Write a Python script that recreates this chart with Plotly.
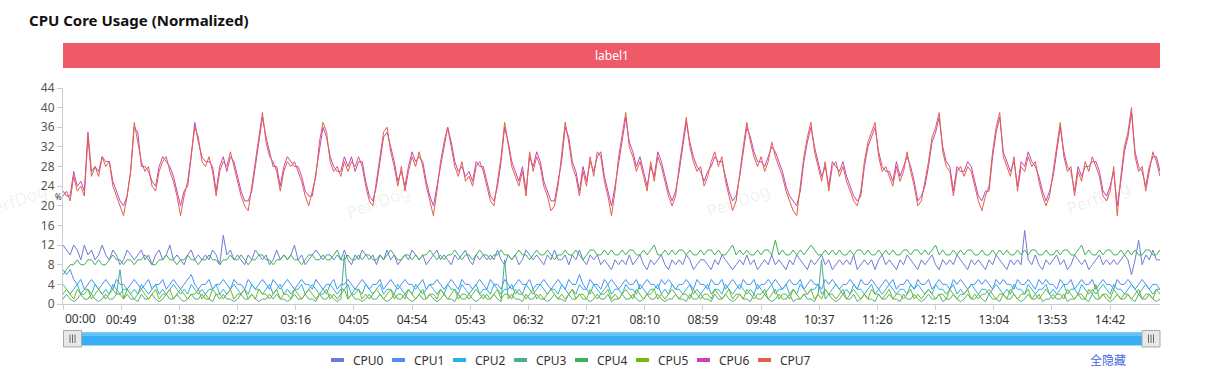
import plotly.graph_objects as go

# ---------------- data (sampled every 3 s) ----------------
TIME_STEP = 3
TICK_SECONDS = [0, 49, 98, 147, 196, 245, 294, 343, 392, 441, 490, 539, 588, 637, 686, 735, 784, 833, 882]
TICK_LABELS = ["00:00", "00:49", "01:38", "02:27", "03:16", "04:05", "04:54", "05:43", "06:32", "07:21",
               "08:10", "08:59", "09:48", "10:37", "11:26", "12:15", "13:04", "13:53", "14:42"]
Y_TICKS = [0, 4, 8, 12, 16, 20, 24, 28, 32, 36, 40, 44]

cpu0 = [12,11,10,12,11,9,12,10,11,9,10,12,10,9,11,10,8,9,11,10,
        9,10,11,9,10,8,10,11,9,10,12,9,10,9,8,10,11,9,10,9,
        10,9,11,10,8,14,10,11,9,10,9,8,10,9,11,10,9,10,8,9,
        11,9,10,9,10,12,9,10,8,9,10,11,10,9,10,10,9,10,9,11,
        9,8,10,9,11,10,9,10,8,10,9,11,9,10,8,9,10,9,11,10,
        9,10,8,9,10,11,9,10,9,8,10,9,10,11,9,8,10,9,10,9,
        10,9,11,9,8,10,9,10,8,9,11,10,9,10,9,8,10,9,11,9,
        9,10,8,10,9,11,9,8,10,9,10,8,9,8,7,9,8,9,8,10,
        8,9,10,8,7,9,8,9,10,8,7,9,8,9,8,10,9,7,8,9,
        9,8,7,9,8,10,9,8,7,8,9,8,10,8,9,7,8,9,8,10,
        8,9,8,7,9,8,10,9,8,7,9,8,9,10,8,9,7,8,9,8,
        9,8,10,7,8,9,8,9,7,9,10,8,9,8,7,9,8,10,9,8,
        7,9,8,9,10,8,7,9,8,9,8,10,9,8,7,9,8,9,8,7,
        9,8,10,9,8,7,9,8,9,8,15,9,8,10,8,7,9,8,9,10,
        8,9,7,8,10,9,8,9,7,8,9,10,8,9,8,9,8,9,10,9,
        6,9,13,8,10,9,11,9,9]

cpu1 = [7,6,7,5,4,5,3,4,5,4,3,4,5,4,3,5,4,4,3,4,
        5,4,3,4,5,3,4,4,5,3,4,5,4,3,4,5,6,4,3,4,
        4,5,3,4,4,5,4,3,5,4,4,3,5,4,3,4,5,4,3,5,
        4,3,4,5,4,3,4,5,4,4,3,5,4,3,4,4,5,3,4,4,
        5,4,3,4,5,4,3,4,4,5,3,4,5,4,3,4,5,4,4,3,
        4,5,3,4,4,5,4,3,4,5,4,3,5,4,4,3,4,5,4,3,
        5,4,4,3,5,4,3,4,5,4,4,5,3,4,4,5,4,3,4,5,
        4,3,5,4,4,6,4,3,5,4,4,3,5,4,5,4,3,4,5,4,
        4,5,3,4,5,4,4,3,5,4,5,4,3,4,4,5,4,3,5,4,
        4,3,5,4,4,5,3,4,5,4,3,5,4,4,5,3,4,4,5,4,
        5,4,3,4,5,4,4,5,3,4,5,4,4,3,5,4,5,4,3,4,
        4,5,4,3,5,4,4,5,4,3,4,5,4,5,3,4,4,5,4,3,
        5,4,4,5,3,4,5,4,4,3,5,4,5,4,3,4,4,5,4,5,
        4,3,5,4,5,4,4,3,5,4,4,5,4,3,5,4,5,4,4,3,
        5,4,4,5,3,4,5,4,4,5,3,4,5,4,4,3,5,4,4,5,
        4,3,4,5,4,3,4,4,3]

cpu2 = [4,3,2,3,4,2,3,3,2,4,3,2,3,2,4,3,2,3,3,2,
        3,2,4,3,2,3,4,2,3,2,3,4,3,2,3,2,4,3,2,3,
        2,3,3,4,2,3,2,3,4,3,2,3,2,4,3,3,2,3,4,2,
        3,4,2,3,2,3,3,4,2,3,4,3,2,3,2,4,3,2,3,3,
        4,2,3,3,2,4,3,2,3,4,2,3,3,2,4,3,2,3,2,4,
        3,2,3,4,3,2,3,2,4,3,3,2,4,3,2,3,4,2,3,3,
        2,4,3,2,3,3,4,2,3,2,4,3,2,3,4,3,2,3,3,2,
        4,3,2,3,2,4,3,3,2,4,3,2,3,4,2,3,3,2,4,3,
        3,2,4,3,2,3,3,4,2,3,2,4,3,3,2,3,4,2,3,2,
        3,4,2,3,3,2,4,3,2,3,4,3,2,3,2,4,3,2,3,4,
        2,3,3,4,2,3,2,4,3,2,3,3,4,2,3,2,3,4,3,2,
        3,2,4,3,3,2,3,4,2,3,2,3,4,3,2,3,3,2,4,3,
        4,3,2,3,2,4,3,3,2,3,4,2,3,2,3,4,3,2,3,3,
        2,3,4,3,2,3,2,4,3,3,2,4,3,2,3,3,4,2,3,2,
        3,4,2,3,3,2,4,3,2,3,2,3,4,3,2,4,3,3,2,3,
        4,3,2,3,4,3,2,3,3]

cpu3 = [1,2,1,0.5,1,2,1,1,2,1,0.5,1,2,1,1,2,7,1,2,1,
        1,0.5,2,1,1,2,1,0.5,1,2,1,1,2,1,0.5,1,2,1,1,2,
        1,1,0.5,2,1,2,1,1,0.5,1,2,1,1,2,1,0.5,1,1,2,1,
        2,1,1,0.5,1,2,1,1,2,1,1,0.5,2,1,1,2,1,0.5,1,10,
        1,2,1,1,0.5,1,2,1,1,2,1,0.5,1,2,1,1,2,1,0.5,1,
        2,1,1,2,1,0.5,1,2,1,1,0.5,2,1,1,2,1,0.5,1,2,1,
        1,2,1,0.5,9,1,2,1,1,0.5,2,1,1,2,1,1,0.5,1,2,1,
        1,0.5,2,1,1,2,1,1,0.5,1,2,1,1,2,0.5,1,1,2,1,1,
        2,1,0.5,1,2,1,1,2,1,0.5,1,1,2,1,1,0.5,2,1,1,2,
        1,1,0.5,2,1,1,2,1,0.5,1,2,1,1,0.5,2,1,1,2,1,0.5,
        1,2,1,1,2,0.5,1,1,2,1,1,0.5,2,9,1,2,1,0.5,1,2,
        1,1,2,0.5,1,2,1,1,0.5,2,1,1,2,1,1,0.5,2,1,1,2,
        1,0.5,1,2,1,1,2,0.5,1,1,2,1,0.5,1,2,1,1,2,1,0.5,
        2,1,1,0.5,2,1,1,2,1,0.5,1,2,1,1,2,0.5,1,1,2,1,
        1,2,0.5,1,1,2,1,1,0.5,2,1,1,2,1,0.5,1,2,1,1,2,
        1,0.5,2,1,1,2,1,0.5,1]

cpu4 = [6,7,8,8,9,8,8,9,9,8,9,8,8,9,10,9,9,8,9,9,
        8,9,9,10,9,8,8,9,9,10,9,9,8,9,9,10,9,9,8,9,
        9,10,9,9,8,9,9,10,9,9,10,9,8,9,9,10,10,9,9,8,
        9,9,10,9,10,9,9,8,9,10,10,9,9,10,9,9,10,11,9,9,
        10,9,9,10,9,10,10,9,9,10,9,10,11,10,9,9,10,10,9,10,
        9,10,10,11,10,9,10,9,10,10,11,10,9,10,10,9,10,11,10,10,
        9,10,10,11,10,10,9,10,11,10,10,9,10,11,10,10,11,10,9,10,
        10,11,10,10,11,10,9,10,11,11,10,10,11,10,11,10,10,11,10,11,
        11,10,10,11,10,11,12,10,10,11,10,11,10,11,11,10,11,10,10,11,
        10,11,11,10,11,10,10,11,12,10,11,10,11,10,10,11,10,11,11,10,
        13,10,11,10,10,11,10,11,10,11,12,11,10,10,11,10,11,10,11,10,
        10,11,10,11,11,10,11,10,10,11,10,11,10,11,10,10,11,11,10,11,
        11,10,11,10,11,12,10,11,10,10,11,10,11,10,11,11,10,10,11,10,
        10,11,10,11,10,11,10,10,11,10,11,10,11,11,10,10,11,10,10,11,
        10,11,11,10,10,11,12,10,11,10,10,11,10,11,11,10,10,11,10,11,
        10,11,10,10,11,11,10,10,11]

cpu5 = [2,3,2,1,3,2,2,3,1,2,3,2,1,2,3,2,2,1,3,2,
        1,2,3,2,1,2,3,1,2,2,3,1,2,3,2,1,2,2,3,1,
        2,1,3,2,2,1,2,3,1,2,2,3,1,2,1,3,2,2,1,2,
        3,1,2,2,1,3,2,1,2,3,2,1,2,2,3,1,2,1,2,3,
        1,2,2,3,1,2,1,2,3,2,1,2,3,1,2,2,1,3,2,1,
        2,3,1,2,2,1,3,2,1,2,3,1,2,2,1,2,3,2,1,2,
        1,2,3,1,2,2,1,3,2,2,1,2,3,1,2,1,2,3,2,1,
        2,1,2,3,1,2,2,1,3,2,1,2,2,3,1,2,1,2,3,2,
        1,3,2,1,2,2,3,1,2,1,2,3,2,1,2,2,1,3,2,1,
        2,2,1,3,2,1,2,3,1,2,2,1,3,2,1,2,2,3,1,2,
        3,1,2,2,1,3,2,1,2,2,3,1,2,1,3,2,2,1,2,3,
        1,2,3,2,1,2,1,3,2,2,1,2,3,1,2,2,1,2,3,1,
        2,1,2,3,2,1,2,2,1,3,2,1,2,2,3,1,2,1,2,2,
        3,2,1,2,2,1,3,2,1,2,2,3,1,2,1,2,3,2,1,2,
        2,1,3,2,1,2,2,1,3,2,4,1,2,2,1,3,2,1,2,2,
        1,2,3,1,2,2,1,3,2]

cpu6 = [23,22,22,27,24,25,23,35,27,28,27,30,29,29,25,23,21,20,22,27,
        36,35,28,28,27,25,24,28,30,29,28,26,23,20,23,24,30,37,33,30,
        29,29,28,23,28,30,27,30,29,26,23,21,21,23,28,33,38,34,31,28,
        28,24,28,30,29,28,28,26,23,22,22,27,32,36,34,30,28,27,27,30,
        28,30,27,29,29,25,22,21,24,29,34,35,32,29,25,27,24,28,31,29,
        30,29,25,22,20,24,28,32,36,33,29,27,28,26,27,25,29,28,28,25,
        22,21,24,29,36,33,29,27,25,28,23,30,28,31,29,25,23,21,21,25,
        29,36,34,29,27,23,28,25,29,27,30,31,26,23,20,24,29,34,38,33,
        31,28,30,27,24,28,26,31,29,26,23,21,23,27,32,37,33,30,28,27,
        25,27,28,30,29,29,26,23,21,22,26,31,36,34,31,29,29,28,30,32,
        31,29,27,24,22,21,20,23,29,33,36,32,29,26,28,24,29,28,27,29,
        26,24,22,21,22,28,32,34,36,31,28,27,27,25,29,26,28,30,28,25,
        21,22,24,28,33,35,38,32,29,28,23,28,27,27,29,28,25,22,21,23,
        23,30,35,38,31,29,27,29,24,29,28,31,29,28,26,23,21,23,26,31,
        36,31,28,27,23,28,26,28,28,29,29,27,23,22,24,27,20,25,31,34,
        39,31,28,27,24,28,30,30,27]

cpu7 = [22,23,21,26,23,24,22,34,26,28,26,30,28,29,24,22,20,18,22,27,
        37,33,29,27,28,24,23,27,29,30,27,25,22,18,22,25,31,36,34,29,
        28,30,27,22,27,29,28,31,28,25,22,20,19,24,29,34,39,33,30,29,
        27,23,27,29,28,29,27,25,22,20,23,26,33,37,35,29,27,28,26,29,
        27,29,28,30,28,24,21,20,25,30,35,36,31,28,24,28,23,27,30,28,
        31,28,24,21,18,23,29,33,36,32,28,26,29,25,26,24,28,29,27,24,
        21,20,25,30,37,32,28,26,24,27,22,31,27,30,28,24,22,19,20,24,
        30,37,33,28,26,22,27,24,30,26,31,30,25,22,18,23,30,35,39,32,
        30,27,29,26,23,29,25,30,28,25,22,20,22,28,33,38,32,29,27,28,
        24,26,29,31,28,30,25,22,19,21,27,32,37,33,30,28,30,27,29,33,
        30,28,26,23,21,19,18,24,30,34,37,31,28,25,29,23,28,29,26,28,
        25,23,21,20,23,29,33,35,37,30,27,28,26,24,28,25,27,31,27,24,
        20,21,25,29,34,36,39,31,28,27,22,27,28,26,28,27,24,21,19,22,
        24,31,36,39,30,28,26,30,23,28,27,30,28,29,25,22,20,22,27,32,
        37,30,27,28,22,27,25,29,27,30,28,26,22,21,23,28,18,26,32,35,
        40,30,27,28,23,27,31,29,26]

SERIES_NAMES = ["CPU0", "CPU1", "CPU2", "CPU3", "CPU4", "CPU5", "CPU6", "CPU7"]
SERIES_VALUES = [cpu0, cpu1, cpu2, cpu3, cpu4, cpu5, cpu6, cpu7]
COLORS = ["#7079D6", "#4A8FF6", "#27B2E2", "#4BAE8E", "#3DB158", "#74BA10", "#C942B9", "#E0614A"]

TITLE = "CPU Core Usage (Normalized)"
BAND_LABEL = "label1"
HIDE_ALL = "全隐藏"
WATERMARK = "PerfDog"
Y_NAME = "%"

# ---------------- layout geometry (pixels) ----------------
W, H = 1223, 384
PL, PR, PT, PB = 63, 1160, 88, 304   # plot area edges
FONT = "Noto Sans, Noto Sans CJK SC, Open Sans, sans-serif"


def px(x):
    return (x - PL) / (PR - PL)


def py(y):
    return (PB - y) / (PB - PT)


fig = go.Figure()
for name, vals, col in zip(SERIES_NAMES, SERIES_VALUES, COLORS):
    xs = [i * TIME_STEP for i in range(len(vals))]
    fig.add_trace(go.Scatter(x=xs, y=vals, name=name, mode="lines",
                             line=dict(color=col, width=1), showlegend=False,
                             hoverinfo="x+y+name"))

x_end = (len(cpu7) - 1) * TIME_STEP
ticktext = [""] + TICK_LABELS[1:]

shapes = []
annotations = []

# red label band
shapes.append(dict(type="rect", xref="paper", yref="paper", x0=0, x1=1, y0=py(68), y1=py(43),
                   fillcolor="#EF5A68", line=dict(width=0), layer="above"))
annotations.append(dict(text=BAND_LABEL, xref="paper", yref="paper", x=0.5, y=py(55.5),
                        showarrow=False, font=dict(color="white", size=12, family=FONT),
                        xanchor="center", yanchor="middle"))

# title
annotations.append(dict(text="<b>" + TITLE + "</b>", xref="paper", yref="paper", x=px(27), y=py(20),
                        showarrow=False, font=dict(color="#111", size=15, family=FONT),
                        xanchor="left", yanchor="middle"))

# first x label, aligned to the right of its tick
annotations.append(dict(text=TICK_LABELS[0], xref="x", yref="paper", x=0, y=py(318),
                        showarrow=False, font=dict(color="#333", size=12, family=FONT),
                        xanchor="left", yanchor="middle"))

# y axis name, placed between the tick labels and the axis
annotations.append(dict(text=Y_NAME, xref="paper", yref="paper", x=px(58), y=py(196),
                        showarrow=False, font=dict(color="#333", size=8, family=FONT),
                        xanchor="center", yanchor="middle", borderpad=0))

# watermarks
for cx, cy in [(15, 200), (378, 201), (738, 200), (1098, 197)]:
    annotations.append(dict(text=WATERMARK, xref="paper", yref="paper", x=px(cx), y=py(cy),
                            showarrow=False, textangle=-20,
                            font=dict(color="rgba(0,0,0,0.07)", size=17, family=FONT),
                            xanchor="center", yanchor="middle"))

# slider (data zoom)
shapes.append(dict(type="rect", xref="paper", yref="paper", x0=px(70), x1=px(1153), y0=py(345.5), y1=py(332.5),
                   fillcolor="#39ADF2", line=dict(width=0), layer="above"))
shapes.append(dict(type="rect", xref="paper", yref="paper", x0=px(70), x1=px(1153), y0=py(336), y1=py(332.5),
                   fillcolor="#63C2F7", line=dict(width=0), layer="above"))
for hx in (63.5, 1142):
    shapes.append(dict(type="rect", xref="paper", yref="paper", x0=px(hx), x1=px(hx + 18), y0=py(347), y1=py(330.5),
                       fillcolor="#E8E8E8", line=dict(color="#A9A9A9", width=1), layer="above"))
    for dx in (6.5, 9, 11.5):
        shapes.append(dict(type="line", xref="paper", yref="paper", x0=px(hx + dx), x1=px(hx + dx),
                           y0=py(343), y1=py(334.5), line=dict(color="#6A6A6A", width=1), layer="above"))

# custom legend
for k, (name, col) in enumerate(zip(SERIES_NAMES, COLORS)):
    lx = 331 + 61 * k
    shapes.append(dict(type="rect", xref="paper", yref="paper", x0=px(lx), x1=px(lx + 13),
                       y0=py(362), y1=py(358), fillcolor=col, line=dict(width=0), layer="above"))
    annotations.append(dict(text=name, xref="paper", yref="paper", x=px(lx + 20), y=py(360),
                            showarrow=False, font=dict(color="#333", size=12, family=FONT),
                            xanchor="left", yanchor="middle"))
annotations.append(dict(text=HIDE_ALL, xref="paper", yref="paper", x=px(1108), y=py(360),
                        showarrow=False, font=dict(color="#4467E3", size=12, family=FONT),
                        xanchor="center", yanchor="middle"))

fig.update_layout(
    width=W, height=H, autosize=False,
    margin=dict(l=PL, r=W - PR, t=PT, b=H - PB, pad=0),
    paper_bgcolor="white", plot_bgcolor="white",
    font=dict(family=FONT, size=12, color="#333"),
    showlegend=False,
    shapes=shapes, annotations=annotations,
    xaxis=dict(range=[0, x_end], tickmode="array", tickvals=TICK_SECONDS, ticktext=ticktext,
               showline=True, linecolor="#C9CDD6", linewidth=1, ticks="outside", ticklen=5,
               tickcolor="#C9CDD6", showgrid=False, zeroline=False,
               tickfont=dict(size=12, color="#333", family=FONT), fixedrange=True),
    yaxis=dict(range=[0, 44], tickmode="array", tickvals=Y_TICKS,
               showline=True, linecolor="#C9CDD6", linewidth=1, ticks="outside", ticklen=5,
               tickcolor="#C9CDD6", showgrid=False, zeroline=False,
               tickfont=dict(size=12, color="#555", family=FONT), fixedrange=True),
)

fig.write_html("out.html", include_plotlyjs=True, config={"displayModeBar": False},
               post_script="document.body.style.margin='0';document.body.style.overflow='hidden';")
